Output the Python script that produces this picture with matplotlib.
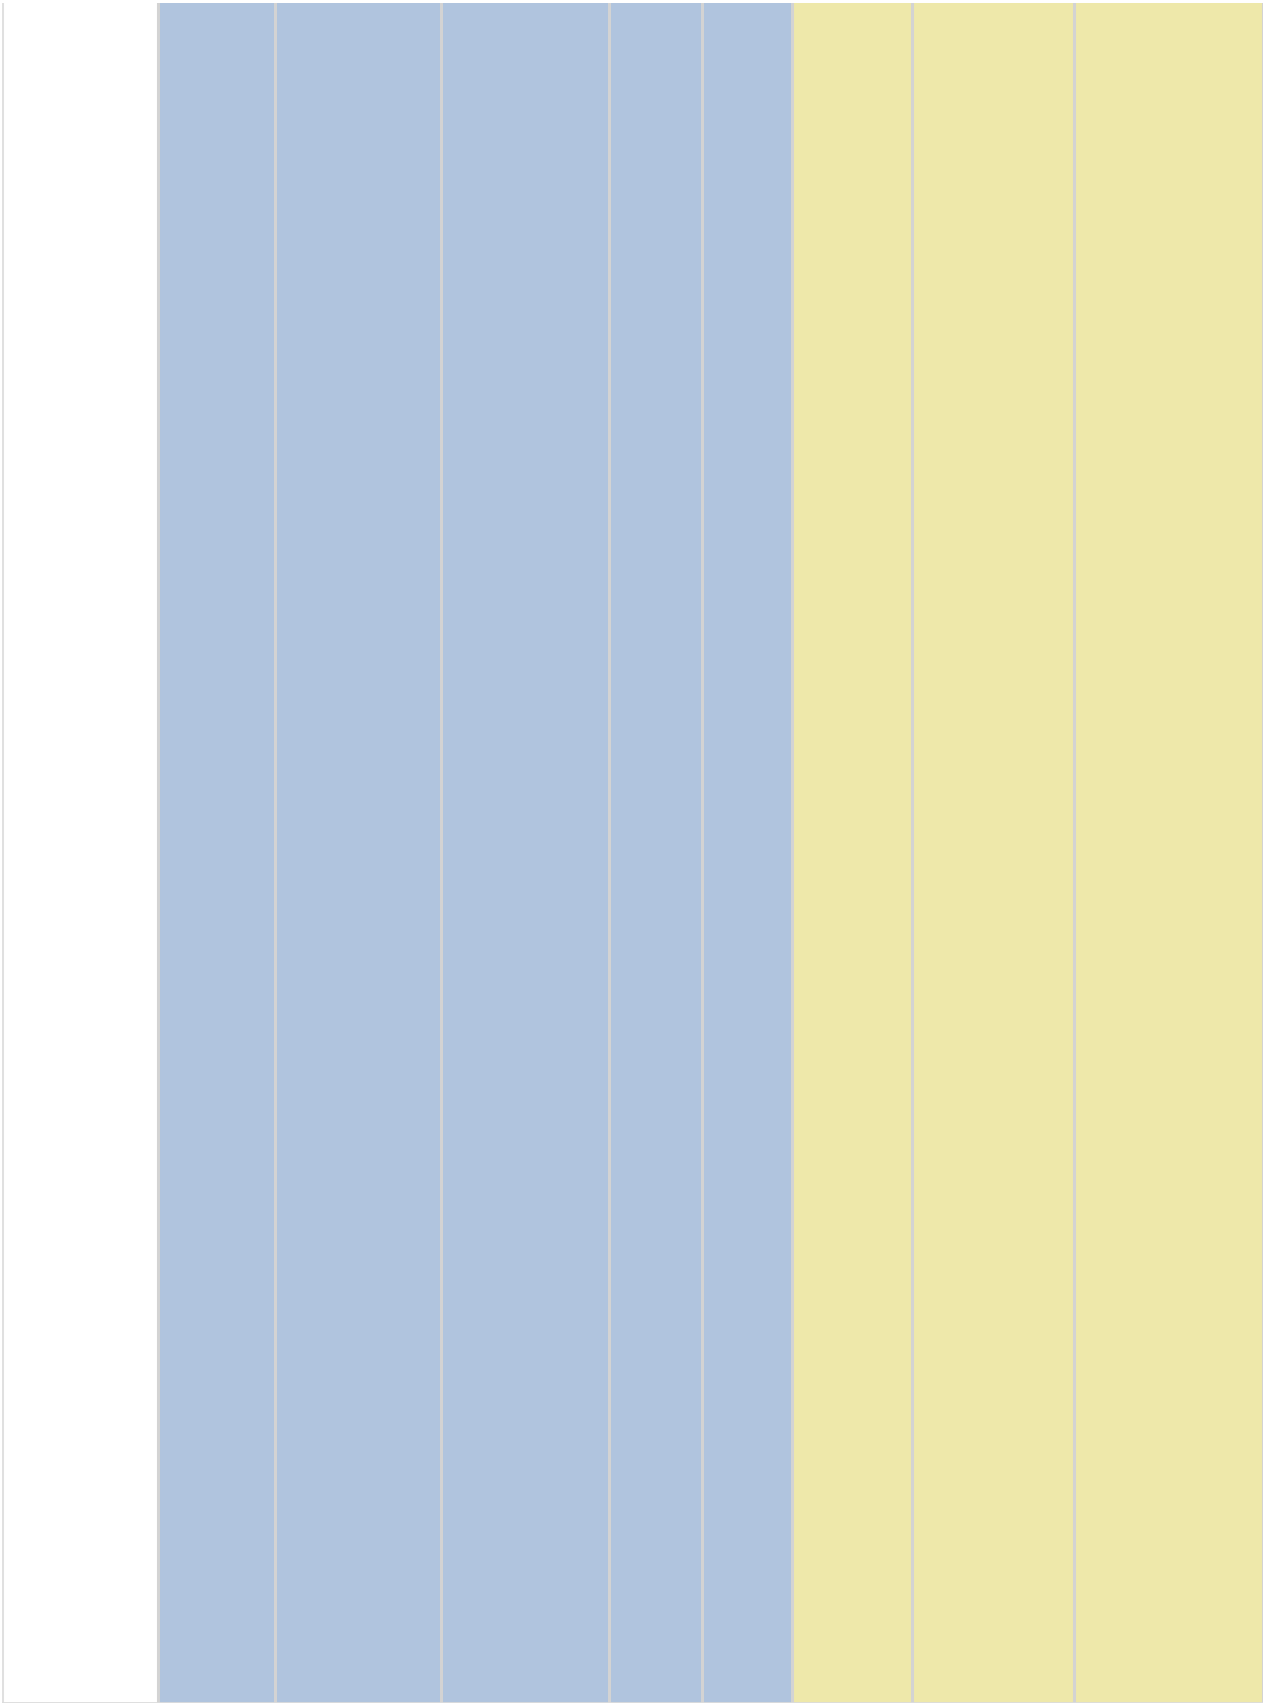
import numpy as np
import matplotlib.pyplot as plt

# segment sizes (relative widths)
labels = ['other', 'b1', 'b2', 'b3', 'b4', 'b5', 'y1', 'y2', 'y3']
values = [156, 117, 166, 168, 93, 90, 120, 162, 189]
groups = ['none', 'blue', 'blue', 'blue', 'blue', 'blue', 'yellow', 'yellow', 'yellow']
group_colors = {'none': '#ffffff', 'blue': '#b0c4de', 'yellow': '#eee8aa'}

fig = plt.figure(figsize=(12.71, 17.06), dpi=100)
ax = fig.add_axes([2 / 1271, 2 / 1706, 1261 / 1271, 1700 / 1706])

lefts = np.concatenate([[0], np.cumsum(values)[:-1]])
colors = [group_colors[g] for g in groups]
ax.barh(0, values, left=lefts, height=1.0, color=colors,
        linewidth=0, align='center')

# separators: grey vertical lines between segments, light bottom line
for x in list(lefts) + [sum(values)]:
    c = '#e0e0e0' if x == 0 else '#d3d3d3'
    ax.axvline(x, color=c, lw=2.2, zorder=3)
ax.axhline(-0.5, color='#dcdcdc', lw=2.0, zorder=3)

ax.set_xlim(0, sum(values))
ax.set_ylim(-0.5, 0.5)
ax.axis('off')

fig.savefig('out.png', dpi=100)
